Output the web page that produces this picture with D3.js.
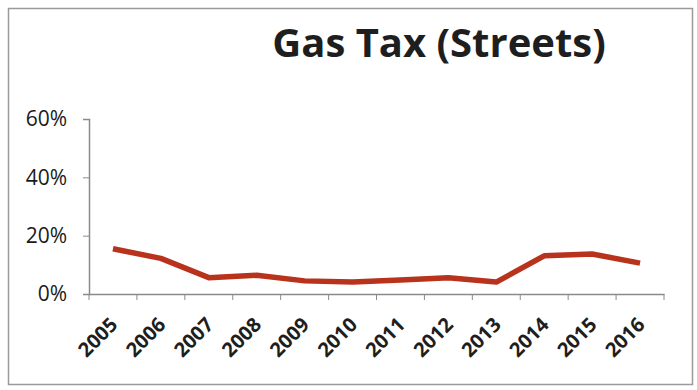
<!DOCTYPE html>
<html><head><meta charset="utf-8">
<script src="https://cdn.jsdelivr.net/npm/d3@7"></script>
<style>body{margin:0;background:#fff}svg{display:block}</style>
</head><body>
<script>
const years = ["2005","2006","2007","2008","2009","2010","2011","2012","2013","2014","2015","2016"];
const values = [15.5, 12.2, 5.6, 6.4, 4.5, 4.1, 4.8, 5.6, 4.1, 13.1, 13.7, 10.6];
const yTicks = [0, 20, 40, 60];
const title = "Gas Tax (Streets)";

const W = 697, H = 390;
const svg = d3.select("body").append("svg").attr("width", W).attr("height", H);
svg.append("rect").attr("x", 8.5).attr("y", 8.5).attr("width", 684).attr("height", 376)
  .attr("fill", "#fff").attr("stroke", "#9a9a9a").attr("stroke-width", 1.5);

const x = d3.scaleBand().domain(years).range([89, 664]);
const y = d3.scaleLinear().domain([0, 60]).range([294, 119]);

svg.append("text").attr("x", 439).attr("y", 57).attr("text-anchor", "middle")
  .attr("font-family", "Open Sans, sans-serif").attr("font-weight", "bold")
  .attr("font-size", 40).attr("fill", "#1e1e1e").text(title);

// y axis
const ya = svg.append("g").attr("transform", "translate(89,0)")
  .call(d3.axisLeft(y).tickValues(yTicks).tickFormat(d => d + "%").tickSize(6).tickPadding(16));
ya.select(".domain").attr("stroke", "#8a8a8a").attr("stroke-width", 1.5);
ya.selectAll(".tick line").attr("stroke", "#8a8a8a");
ya.selectAll("text").attr("font-family", "Open Sans, sans-serif").attr("font-size", 21)
  .attr("font-weight", 500).attr("fill", "#1a1a1a");

// x axis
const xa = svg.append("g").attr("transform", "translate(0,294)")
  .call(d3.axisBottom(x).tickSize(0).tickSizeOuter(0));
xa.select(".domain").attr("stroke", "#8a8a8a").attr("stroke-width", 1.5);
xa.selectAll(".tick line").remove();
xa.selectAll("line.sep").data(d3.range(years.length + 1)).enter().append("line")
  .attr("class", "sep")
  .attr("x1", i => 89 + i * x.step()).attr("x2", i => 89 + i * x.step())
  .attr("y1", 0).attr("y2", 6).attr("stroke", "#8a8a8a");
xa.selectAll(".tick text")
  .attr("font-family", "Open Sans, sans-serif").attr("font-weight", "bold").attr("font-size", 20)
  .attr("fill", "#1e1e1e").attr("text-anchor", "end")
  .attr("x", 0).attr("y", 0).attr("dy", 0)
  .attr("transform", "translate(6,32) rotate(-45)");

// line
const line = d3.line().x((d, i) => x(years[i]) + x.bandwidth() / 2).y(d => y(d));
svg.append("path").datum(values).attr("d", line).attr("fill", "none")
  .attr("stroke", "#b8321c").attr("stroke-width", 5.5).attr("stroke-linejoin", "round");
</script>
</body></html>
